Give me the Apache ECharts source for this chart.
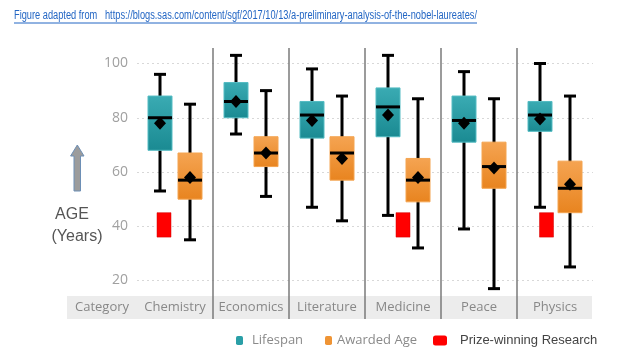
<!DOCTYPE html>
<html>
<head>
<meta charset="utf-8">
<script src="https://cdn.jsdelivr.net/npm/echarts@6/dist/echarts.min.js"></script>
<style>
html,body{margin:0;padding:0;background:#fff;}
#main{width:640px;height:360px;}
</style>
</head>
<body>
<div id="main"></div>
<script>
// ---- data ----
const categories = ['Chemistry', 'Economics', 'Literature', 'Medicine', 'Peace', 'Physics'];
const yTicks = [20, 40, 60, 80, 100];

const lifeMin  = [53, 74, 47, 44, 39, 47];
const lifeQ1   = [68, 80, 72.5, 73, 71, 75];
const lifeMed  = [80, 86, 81, 84, 79, 81];
const lifeQ3   = [88, 93, 86, 91, 88, 86];
const lifeMax  = [96, 103, 98, 103, 97, 100];
const lifeMean = [78, 86, 79, 81, 78, 79.5];

const awMin  = [35, 51, 42, 32, 17, 25];
const awQ1   = [50, 62, 57, 49, 54, 45];
const awMed  = [57, 67, 67, 57, 62, 54];
const awQ3   = [67, 73, 73, 65, 71, 64];
const awMax  = [85, 90, 88, 87, 87, 88];
const awMean = [58, 67, 65, 58, 61.5, 55.5];

const researchCats = ['Chemistry', 'Medicine', 'Physics'];
const researchLow  = [36, 36, 36];
const researchHigh = [45, 45, 45];

const titleText = 'Figure adapted from   https://blogs.sas.com/content/sgf/2017/10/13/a-preliminary-analysis-of-the-nobel-laureates/';

// ---- layout / style ----
const researchShift = {Chemistry: -11, Medicine: 0, Physics: -8.5};
const lifeData = categories.map((c, i) => [i, lifeMin[i], lifeQ1[i], lifeMed[i], lifeQ3[i], lifeMax[i], lifeMean[i]]);
const awData = categories.map((c, i) => [i, awMin[i], awQ1[i], awMed[i], awQ3[i], awMax[i], awMean[i]]);
const resData = researchCats.map((c, k) => [categories.indexOf(c), researchLow[k], researchHigh[k]]);

function boxRender(offset, top, bottom, stroke) {
  return function (params, api) {
    const i = api.value(0);
    const cx = api.coord([i, 60])[0] + offset;
    const y = v => api.coord([i, v])[1];
    const yMin = y(api.value(1)), yQ1 = y(api.value(2)), yMed = y(api.value(3)),
          yQ3 = y(api.value(4)), yMax = y(api.value(5)), yMean = y(api.value(6));
    const bw = 24, cw = 12;
    const ls = {stroke: '#000', lineWidth: 3, lineCap: 'butt'};
    return {
      type: 'group',
      children: [
        {type: 'line', shape: {x1: cx, y1: yMax, x2: cx, y2: yMin}, style: ls},
        {type: 'line', shape: {x1: cx - cw / 2, y1: yMax, x2: cx + cw / 2, y2: yMax}, style: ls},
        {type: 'line', shape: {x1: cx - cw / 2, y1: yMin, x2: cx + cw / 2, y2: yMin}, style: ls},
        {type: 'rect', shape: {x: cx - bw / 2, y: yQ3, width: bw, height: yQ1 - yQ3},
          style: {fill: new echarts.graphic.LinearGradient(0, 0, 0, 1, [{offset: 0, color: top}, {offset: 1, color: bottom}]),
                  stroke: stroke, lineWidth: 1}},
        {type: 'line', shape: {x1: cx - bw / 2, y1: yMed, x2: cx + bw / 2, y2: yMed}, style: ls},
        {type: 'polygon', shape: {points: [[cx, yMean - 6.5], [cx + 6, yMean], [cx, yMean + 6.5], [cx - 6, yMean]]},
          style: {fill: '#000'}}
      ]
    };
  };
}

function measure(text, font) {
  const c = document.createElement('canvas').getContext('2d');
  c.font = font;
  return c.measureText(text).width;
}
const titleFont = '12.5px "Liberation Sans"';
const titleScale = 463 / measure(titleText, titleFont);

const chart = echarts.init(document.getElementById('main'), null, {renderer: 'canvas'});
chart.setOption({
  animation: false,
  backgroundColor: '#fff',
  grid: {left: 137, width: 456, top: 63.5, height: 217},
  xAxis: {
    type: 'category', data: categories,
    axisLine: {show: false}, axisTick: {show: false},
    axisLabel: {interval: 0, color: '#888', fontFamily: 'Open Sans', fontSize: 13, margin: 27, verticalAlign: 'middle'}
  },
  yAxis: {
    type: 'value', min: yTicks[0], max: yTicks[yTicks.length - 1], interval: 20,
    axisLine: {show: false}, axisTick: {show: false},
    axisLabel: {color: '#a0a0a0', fontFamily: 'Open Sans', fontSize: 14, margin: 9},
    splitLine: {lineStyle: {color: '#d8d8d8', type: [2, 3], width: 1}}
  },
  legend: [
    {data: ['Lifespan'], left: 236, top: 334, padding: 0, itemWidth: 7, itemHeight: 9,
      textStyle: {color: '#8a8a8a', fontFamily: 'Open Sans', fontSize: 13, padding: [0, 0, 0, 4]}},
    {data: ['Awarded Age'], left: 325, top: 334, padding: 0, itemWidth: 7, itemHeight: 9,
      textStyle: {color: '#8a8a8a', fontFamily: 'Open Sans', fontSize: 13, padding: [0, 0, 0, 0]}},
    {data: ['Prize-winning Research'], left: 433, top: 334, padding: 0, itemWidth: 14, itemHeight: 10,
      textStyle: {color: '#444', fontFamily: 'Liberation Sans', fontSize: 13, padding: [0, 0, 0, 8]}}
  ],
  graphic: [
    {type: 'rect', z: -10, shape: {x: 67, y: 296, width: 525, height: 23}, style: {fill: '#ececec'}},
    {type: 'text', x: 102, y: 307.5, style: {text: 'Category', fill: '#888', font: '13px "Open Sans"', align: 'center', verticalAlign: 'middle'}},
    {type: 'text', x: 14, y: 16, scaleX: titleScale, style: {text: titleText, fill: '#2366c4', font: titleFont, verticalAlign: 'middle'}},
    {type: 'line', shape: {x1: 14, y1: 23, x2: 477, y2: 23}, style: {stroke: '#2366c4', lineWidth: 1}},
    {type: 'polygon', shape: {points: [[77.3, 145], [84, 156], [80.5, 156], [80.5, 191], [74, 191], [74, 156], [70.6, 156]]},
      style: {fill: '#9c9c9c', stroke: '#6d8fb5', lineWidth: 1}},
    {type: 'text', x: 72, y: 215, style: {text: 'AGE', fill: '#555', font: '16px "Liberation Sans"', align: 'center', verticalAlign: 'middle'}},
    {type: 'text', x: 77, y: 237, style: {text: '(Years)', fill: '#555', font: '16px "Liberation Sans"', align: 'center', verticalAlign: 'middle'}}
  ],
  series: [
    {
      type: 'custom', name: 'sep', silent: true, z: 1,
      data: categories.map((c, i) => [i]),
      renderItem: function (params, api) {
        const i = api.value(0);
        if (i === 0) return null;
        const bw = api.size([1, 0])[0];
        const x = api.coord([i, 60])[0] - bw / 2;
        return {type: 'line', shape: {x1: x, y1: 48, x2: x, y2: 319}, style: {stroke: '#7a7a7a', lineWidth: 1.5}};
      }
    },
    {
      type: 'custom', name: 'Prize-winning Research', itemStyle: {color: '#ff0000'},
      data: resData,
      renderItem: function (params, api) {
        const i = api.value(0);
        const cx = api.coord([i, 60])[0] + researchShift[categories[i]];
        const y1 = api.coord([i, api.value(2)])[1], y2 = api.coord([i, api.value(1)])[1];
        return {type: 'rect', shape: {x: cx - 7, y: y1, width: 14, height: y2 - y1}, style: {fill: '#ff0000', stroke: '#d00000', lineWidth: 0.5}};
      }
    },
    {
      type: 'custom', name: 'Lifespan', itemStyle: {color: '#2a9fa7'},
      data: lifeData, renderItem: boxRender(-15, '#3aabb3', '#1a8a92', '#55bcc3')
    },
    {
      type: 'custom', name: 'Awarded Age', itemStyle: {color: '#ef9435'},
      data: awData, renderItem: boxRender(15, '#f5a452', '#e8841f', '#f4a450')
    }
  ]
});
</script>
</body>
</html>
